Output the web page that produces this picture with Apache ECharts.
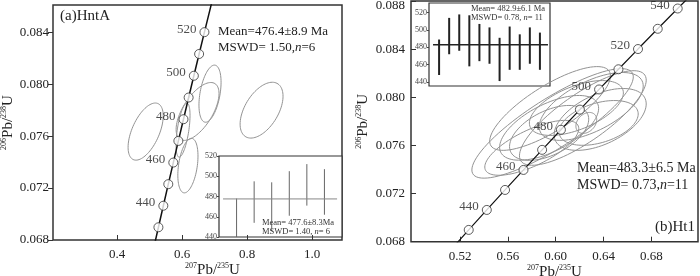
<!DOCTYPE html>
<html><head><meta charset="utf-8">
<script src="https://cdn.jsdelivr.net/npm/echarts@6/dist/echarts.min.js"></script>
<style>html,body{margin:0;padding:0;background:#fff}#c{width:700px;height:276px}</style>
</head><body><div id="c"></div>
<script>
// Concordia reference points (age in Ma, 207Pb/235U, 206Pb/238U)
const concAges = [420,430,440,450,460,470,480,490,500,510,520,530,540,550,560];
const concX = [0.51230,0.52727,0.54239,0.55765,0.57307,0.58864,0.60436,0.62024,0.63628,0.65247,0.66883,0.68534,0.70203,0.71887,0.73588];
const concY = [0.067322,0.068979,0.070639,0.072300,0.073964,0.075632,0.077302,0.078975,0.080650,0.082327,0.084008,0.085691,0.087376,0.089064,0.090755];
const circleAgesA = [430,440,450,460,470,480,490,500,510,520];
const circleAgesB = [430,440,450,460,470,480,490,500,510,520,530,540];
const labelAgesA = [440,460,480,500,520];
const labelAgesB = [440,460,480,500,520,540];
// error ellipses: [centre 207/235, centre 206/238, half-width x, half-height y, correlation]
const ellipsesA = [
  [0.488,0.07635,0.054,0.0022,0.55],
  [0.8446,0.0780,0.066,0.00215,0.50],
  [0.686,0.07927,0.034,0.0022,0.40],
  [0.6477,0.0779,0.066,0.00223,0.62],
  [0.603,0.07646,0.0215,0.00208,0.55],
  [0.618,0.07373,0.031,0.0021,0.35]
];
const ellipsesB = [
  [0.5974,0.07783,0.0675,0.00455,0.85],
  [0.5953,0.07907,0.0505,0.00348,0.78],
  [0.6227,0.07828,0.0530,0.00393,0.80],
  [0.5945,0.07746,0.0414,0.00269,0.60],
  [0.6297,0.07924,0.0435,0.00282,0.60],
  [0.6372,0.07816,0.0385,0.00257,0.50],
  [0.6256,0.07787,0.0087,0.00087,0.30],
  [0.5945,0.07704,0.0331,0.00228,0.50],
  [0.6173,0.07911,0.0393,0.00228,0.55],
  [0.5800,0.07580,0.0393,0.00228,0.70],
  [0.6359,0.07787,0.0331,0.00186,0.40]
];
// inset weighted-mean plots
const insetALow  = [436,454,446,461,471,462];
const insetAHigh = [478,495,494,505,512,507];
const insetAMean = 477.6;
const insetAMeanSpan = [0.23,6.72];
const insetBLow  = [448,472,476,458,464,461,441,454,454,461,454];
const insetBHigh = [489,514,518,517,507,503,491,504,495,503,497];
const insetBMean = 482.9;
const insetBMeanSpan = [0.4,11.8];
const xTicksA = [0.4,0.6,0.8,1.0];
const yTicksA = [0.068,0.072,0.076,0.080,0.084];
const xTicksB = [0.52,0.56,0.60,0.64,0.68];
const yTicksB = [0.068,0.072,0.076,0.080,0.084,0.088];
const insetTicks = [440,460,480,500,520];

const FF = 'Liberation Serif, DejaVu Serif, serif';
const TXT = '#222';
const chart = echarts.init(document.getElementById('c'), null, {renderer:'canvas'});

function concData(){ return concAges.map((a,i)=>[concX[i],concY[i],a]); }
function circleData(ages, labelled){
  return ages.map(a=>{const i=concAges.indexOf(a);
    return {value:[concX[i],concY[i],a], label:{show:labelled.indexOf(a)>=0}};});
}
function ellipseRender(params, api){
  const cx=api.value(0), cy=api.value(1), dx=api.value(2), dy=api.value(3), r=api.value(4);
  const s=Math.sqrt(1-r*r); const pts=[];
  for(let k=0;k<90;k++){const t=k/90*2*Math.PI;
    pts.push(api.coord([cx+dx*Math.cos(t), cy+dy*(r*Math.cos(t)+s*Math.sin(t))]));}
  return {type:'polygon', shape:{points:pts}, style:{fill:'none', stroke:'#939393', lineWidth:1}};
}
function barRender(color,w){
  return function(params, api){
    const p1=api.coord([api.value(0),api.value(1)]), p2=api.coord([api.value(0),api.value(2)]);
    return {type:'line', shape:{x1:p1[0],y1:p1[1],x2:p2[0],y2:p2[1]}, style:{stroke:color,lineWidth:w}};
  };
}
const supRich = {
  b:{fontFamily:FF,fontSize:15,color:TXT,lineHeight:16},
  s:{fontFamily:FF,fontSize:8,color:TXT,lineHeight:16,verticalAlign:'top'}
};
const axisName = (a,b)=>'{s|'+a+'}{b|Pb/}{s|'+b+'}{b|U}';

function mainX(gi,min,max,ticks,dec,name,pad){
  return {type:'value',gridIndex:gi,min:min,max:max,
    axisLine:{show:false},splitLine:{show:false},
    axisTick:{show:true,inside:true,length:5,customValues:ticks,lineStyle:{color:'#333'}},
    axisLabel:{customValues:ticks,formatter:v=>v.toFixed(dec),fontFamily:FF,fontSize:13,color:TXT,margin:8},
    name:name,nameLocation:'middle',nameGap:22,nameMoveOverlap:false,nameTextStyle:{rich:supRich,padding:pad||0}};
}
function mainY(gi,min,max,ticks,inside,name,gap){
  return {type:'value',gridIndex:gi,min:min,max:max,
    axisLine:{show:false},splitLine:{show:false},
    axisTick:{show:true,inside:inside,length:5,customValues:ticks,lineStyle:{color:'#333'}},
    axisLabel:{customValues:ticks,formatter:v=>v>0.0875?'{t|'+v.toFixed(3)+'}':v.toFixed(3),fontFamily:FF,fontSize:13,color:TXT,margin:inside?6:4,
      rich:{t:{fontFamily:FF,fontSize:13,color:TXT,padding:[9,0,0,0]}}},
    name:name,nameLocation:'middle',nameGap:gap,nameRotate:90,nameTextStyle:{rich:supRich}};
}
function insetX(gi,max){return {type:'value',gridIndex:gi,min:0,max:max,show:false};}
function insetY(gi,min,max){
  return {type:'value',gridIndex:gi,min:min,max:max,
    axisLine:{show:false},splitLine:{show:false},
    axisTick:{show:true,length:2,customValues:insetTicks,lineStyle:{color:'#444'}},
    axisLabel:{customValues:insetTicks,fontFamily:FF,fontSize:8,color:'#444',margin:2}};
}
const scatterBase = {
  type:'scatter',symbol:'circle',symbolSize:9,
  itemStyle:{color:'#fff',borderColor:'#333',borderWidth:1},
  label:{position:'left',distance:3,offset:[0,-3],formatter:p=>p.value[2],fontFamily:FF,fontSize:13,color:TXT},
  z:5
};

const option = {
  animation:false,
  backgroundColor:'#fff',
  grid:[
    {left:53,top:5,width:289,height:235,show:true,borderColor:'#333',borderWidth:1.5,backgroundColor:'transparent',outerBoundsMode:'none'},
    {left:219,top:156,width:123,height:81,show:true,borderColor:'#333',borderWidth:1.2,backgroundColor:'#fff',outerBoundsMode:'none'},
    {left:411,top:1,width:287,height:240.7,show:true,borderColor:'#333',borderWidth:1.5,backgroundColor:'transparent',outerBoundsMode:'none'},
    {left:429,top:3,width:121,height:83,show:true,borderColor:'#333',borderWidth:1.2,backgroundColor:'#fff',outerBoundsMode:'none'}
  ],
  xAxis:[
    mainX(0,0.203,1.092,xTicksA,1,axisName('207','235'),[0,0,0,30]),
    insetX(1,7),
    mainX(2,0.479,0.719,xTicksB,2,axisName('207','235')),
    insetX(3,12)
  ],
  yAxis:[
    mainY(0,0.068,0.0861,yTicksA,false,axisName('206','238'),37),
    insetY(1,440,520),
    mainY(2,0.068,0.088,yTicksB,true,axisName('206','238'),40),
    insetY(3,435.3,531.2)
  ],
  series:[
    {type:'custom',xAxisIndex:0,yAxisIndex:0,data:ellipsesA,renderItem:ellipseRender,clip:true,z:2},
    {type:'line',xAxisIndex:0,yAxisIndex:0,data:concData(),showSymbol:false,symbol:'none',lineStyle:{color:'#111',width:1.5},clip:true,z:3},
    Object.assign({},scatterBase,{xAxisIndex:0,yAxisIndex:0,data:circleData(circleAgesA,labelAgesA)}),
    {type:'custom',xAxisIndex:1,yAxisIndex:1,data:insetALow.map((v,i)=>[i+1,v,insetAHigh[i]]),encode:{x:0,y:[1,2]},renderItem:barRender('#666',1),clip:true,z:6},
    {type:'line',xAxisIndex:1,yAxisIndex:1,data:insetAMeanSpan.map(x=>[x,insetAMean]),symbol:'none',lineStyle:{color:'#888',width:1},z:6},
    {type:'custom',xAxisIndex:2,yAxisIndex:2,data:ellipsesB,renderItem:ellipseRender,clip:true,z:2},
    {type:'line',xAxisIndex:2,yAxisIndex:2,data:concData(),showSymbol:false,symbol:'none',lineStyle:{color:'#111',width:1.2},clip:true,z:3},
    Object.assign({},scatterBase,{xAxisIndex:2,yAxisIndex:2,data:circleData(circleAgesB,labelAgesB)}),
    {type:'custom',xAxisIndex:3,yAxisIndex:3,data:insetBLow.map((v,i)=>[i+1,v,insetBHigh[i]]),encode:{x:0,y:[1,2]},renderItem:barRender('#222',2),clip:true,z:6},
    {type:'line',xAxisIndex:3,yAxisIndex:3,data:insetBMeanSpan.map(x=>[x,insetBMean]),symbol:'none',lineStyle:{color:'#222',width:1.5},z:6}
  ],
  graphic:[
    {type:'text',left:60,top:9,style:{text:'(a)HntA',font:'15px '+FF,fill:TXT},z:10},
    {type:'text',left:218,top:24,style:{text:'Mean=476.4±8.9 Ma\n{t|MSWD= 1.50,}{i|n}{t|=6}',font:'13px '+FF,fill:TXT,lineHeight:16,
      rich:{t:{font:'13px '+FF,fill:TXT},i:{font:'italic 13px '+FF,fill:TXT}}},z:10},
    {type:'text',left:262,top:218,style:{text:'Mean= 477.6±8.3Ma\n{t|MSWD= 1.40, }{i|n}{t|= 6}',font:'8.5px '+FF,fill:'#333',lineHeight:9,
      rich:{t:{font:'8.5px '+FF,fill:'#333'},i:{font:'italic 8.5px '+FF,fill:'#333'}}},z:10},
    {type:'text',left:471,top:4,style:{text:'Mean= 482.9±6.1 Ma\n{t|MSWD= 0.78, }{i|n}{t|= 11}',font:'8.5px '+FF,fill:'#333',lineHeight:9.5,
      rich:{t:{font:'8.5px '+FF,fill:'#333'},i:{font:'italic 8.5px '+FF,fill:'#333'}}},z:10},
    {type:'text',left:577,top:160,style:{text:'Mean=483.3±6.5 Ma\n{t|MSWD= 0.73,}{i|n}{t|=11}',font:'14px '+FF,fill:TXT,lineHeight:17,
      rich:{t:{font:'14px '+FF,fill:TXT},i:{font:'italic 14px '+FF,fill:TXT}}},z:10},
    {type:'text',right:5,top:220,style:{text:'(b)Ht1',font:'15px '+FF,fill:TXT},z:10}
  ]
};
chart.setOption(option);
</script></body></html>
